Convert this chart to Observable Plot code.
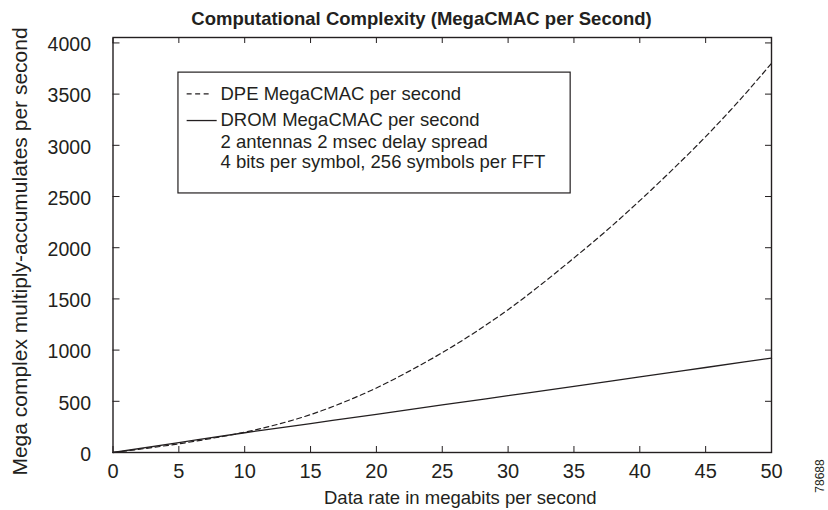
<!DOCTYPE html>
<html>
<head>
<meta charset="utf-8">
<script src="https://cdn.jsdelivr.net/npm/d3@7"></script>
<script src="https://cdn.jsdelivr.net/npm/@observablehq/plot@0.6"></script>
<style>
  body { margin: 0; background: #fff; }
  #chart svg { display: block; }
</style>
</head>
<body>
<div id="chart"></div>
<script>
// ---- data ----
const dpeRates = [0, 2.5, 5, 7.5, 10, 12.5, 15, 17.5, 20, 22.5, 25, 27.5, 30, 32.5, 35, 37.5, 40, 42.5, 45, 47.5, 50];
const dpeValues = [0, 40, 85, 138, 198, 275, 370, 490, 630, 795, 975, 1175, 1395, 1640, 1900, 2170, 2460, 2765, 3085, 3430, 3800];
const dromRates = [0, 5, 10, 15, 20, 25, 30, 35, 40, 45, 50];
const dromValues = [0, 97, 193, 283, 373, 465, 555, 645, 738, 830, 922];
const xTicks = [0, 5, 10, 15, 20, 25, 30, 35, 40, 45, 50];
const yTicks = [0, 500, 1000, 1500, 2000, 2500, 3000, 3500, 4000];
const chartTitle = "Computational Complexity (MegaCMAC per Second)";
const xLabel = "Data rate in megabits per second";
const yLabel = "Mega complex multiply-accumulates per second";
const legendLines = [
  "DPE MegaCMAC per second",
  "DROM MegaCMAC per second",
  "2 antennas 2 msec delay spread",
  "4 bits per symbol, 256 symbols per FFT"
];
const figureNumber = "78688";

// ---- tables built from the arrays ----
const dpe = dpeRates.map((r, i) => ({rate: r, value: dpeValues[i]}));
const drom = dromRates.map((r, i) => ({rate: r, value: dromValues[i]}));

// legend layout (in data units of the chart)
const legendBox = [{x1: 4.97, x2: 34.75, y1: 2530, y2: 3710}];
const legendTextX = 8.16;
const legendBaselines = [3444, 3190, 2976, 2780];
const legendText = legendLines.map((t, i) => ({t, y: legendBaselines[i]}));
const legendSamples = [
  {x1: 5.63, x2: 7.35, y: 3503, dash: "5,3.5"},
  {x1: 5.63, x2: 7.91, y: 3242, dash: null}
];

const ink = "#231f20";
const font = "'Liberation Sans', Arial, Helvetica, sans-serif";

const chart = Plot.plot({
  width: 828,
  height: 510,
  marginLeft: 112.5,
  marginRight: 57,
  marginTop: 37,
  marginBottom: 58,
  style: {fontFamily: font, color: ink, background: "#fff"},
  x: {domain: [0, 50], label: null},
  y: {domain: [0, 4053], label: null},
  marks: [
    // inward ticks
    Plot.axisX(xTicks, {anchor: "bottom", tickSize: 6, dy: -6, fill: "none", label: null, stroke: ink}),
    Plot.axisX(xTicks, {anchor: "top", tickSize: 5, dy: 5, fill: "none", label: null, stroke: ink}),
    Plot.axisY(yTicks, {anchor: "left", tickSize: 7, dx: 7, fill: "none", label: null, stroke: ink}),
    Plot.axisY(yTicks, {anchor: "right", tickSize: 7, dx: -7, fill: "none", label: null, stroke: ink}),
    // tick labels
    Plot.axisX(xTicks, {anchor: "bottom", tickSize: 0, tickPadding: 11, fontSize: 20, label: null, fill: ink, tickFormat: d => String(d)}),
    Plot.axisY(yTicks, {anchor: "left", tickSize: 0, tickPadding: 22, dy: 2, fontSize: 19.5, label: null, fill: ink, tickFormat: d => String(d)}),
    Plot.frame({stroke: ink, strokeWidth: 1.4}),
    // curves
    Plot.line(dpe, {x: "rate", y: "value", stroke: ink, strokeWidth: 1.2, strokeDasharray: "5,3.5", curve: "monotone-x"}),
    Plot.line(drom, {x: "rate", y: "value", stroke: ink, strokeWidth: 1.3, curve: "monotone-x"}),
    // legend
    Plot.rect(legendBox, {x1: "x1", x2: "x2", y1: "y1", y2: "y2", fill: "white", stroke: ink, strokeWidth: 1.2}),
    Plot.ruleY(legendSamples.filter(d => d.dash), {x1: "x1", x2: "x2", y: "y", stroke: ink, strokeWidth: 1.2, strokeDasharray: "5,3.5"}),
    Plot.ruleY(legendSamples.filter(d => !d.dash), {x1: "x1", x2: "x2", y: "y", stroke: ink, strokeWidth: 1.3}),
    Plot.text(legendText, {x: () => legendTextX, y: "y", text: "t", textAnchor: "start", lineAnchor: "bottom", fontSize: 18.5, fill: ink}),
    // title & axis labels
    Plot.text([chartTitle], {frameAnchor: "top", textAnchor: "middle", dx: -20.75, dy: -13, lineAnchor: "bottom", fontSize: 18.5, fontWeight: "bold", fill: ink}),
    Plot.text([xLabel], {frameAnchor: "bottom", textAnchor: "middle", dx: 18, dy: 51.5, lineAnchor: "bottom", fontSize: 18.5, fill: ink}),
    Plot.text([yLabel], {frameAnchor: "left", textAnchor: "middle", rotate: -90, dx: -93, dy: 6.5, lineAnchor: "middle", fontSize: 21, fill: ink}),
    Plot.text([figureNumber], {frameAnchor: "bottom-right", textAnchor: "middle", rotate: -90, dx: 48.5, dy: 23.5, lineAnchor: "middle", fontSize: 12, fill: ink})
  ]
});
document.getElementById("chart").append(chart);
</script>
</body>
</html>
